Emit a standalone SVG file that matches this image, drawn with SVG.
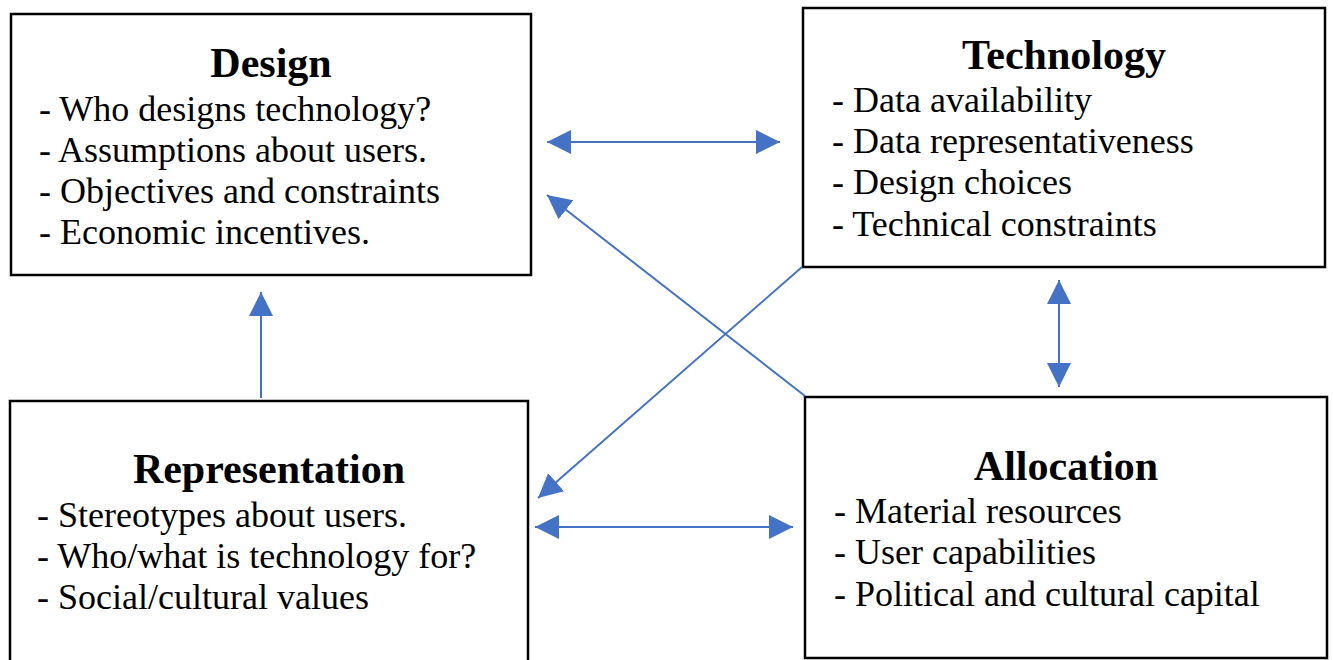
<svg xmlns="http://www.w3.org/2000/svg" width="1333" height="660" viewBox="0 0 1333 660">
<style>
.box{fill:#fff;stroke:#000;stroke-width:2.5}
.title{font-family:"Liberation Serif","Times New Roman",serif;font-weight:bold;font-size:42px;text-anchor:middle;fill:#000}
.item{font-family:"Liberation Serif","Times New Roman",serif;font-size:36px;fill:#000}
.conn{stroke:#4472C4;stroke-width:2;fill:none}
</style>
<defs>
<marker id="ah" markerUnits="userSpaceOnUse" markerWidth="24" markerHeight="24" refX="22" refY="11" orient="auto-start-reverse" viewBox="0 0 22 22">
<path d="M0,0 L22,11 L0,22 z" fill="#4472C4"/>
</marker>
</defs>
<rect width="1333" height="660" fill="#fff"/>
<g id="design">
<rect class="box" x="11" y="14" width="520" height="261"/>
<text class="title" x="271" y="77">Design</text>
<text class="item" x="39" y="121">- Who designs technology?</text>
<text class="item" x="39" y="162">- Assumptions about users.</text>
<text class="item" x="39" y="203">- Objectives and constraints</text>
<text class="item" x="39" y="244">- Economic incentives.</text>
</g>
<g id="technology">
<rect class="box" x="803" y="8" width="522" height="259"/>
<text class="title" x="1064" y="69">Technology</text>
<text class="item" x="832" y="112">- Data availability</text>
<text class="item" x="832" y="153">- Data representativeness</text>
<text class="item" x="832" y="194">- Design choices</text>
<text class="item" x="832" y="236">- Technical constraints</text>
</g>
<g id="representation">
<rect class="box" x="10" y="401" width="518" height="262"/>
<text class="title" x="269" y="483">Representation</text>
<text class="item" x="37" y="527">- Stereotypes about users.</text>
<text class="item" x="37" y="568">- Who/what is technology for?</text>
<text class="item" x="37" y="609">- Social/cultural values</text>
</g>
<g id="allocation">
<rect class="box" x="805" y="397" width="522" height="261"/>
<text class="title" x="1066" y="480">Allocation</text>
<text class="item" x="834" y="523">- Material resources</text>
<text class="item" x="834" y="564">- User capabilities</text>
<text class="item" x="834" y="606">- Political and cultural capital</text>
</g>
<g id="connectors">
<line class="conn" x1="547" y1="142" x2="780" y2="142" marker-start="url(#ah)" marker-end="url(#ah)"/>
<line class="conn" x1="805" y1="396" x2="547" y2="195" marker-end="url(#ah)"/>
<line class="conn" x1="802" y1="267" x2="538" y2="498" marker-end="url(#ah)"/>
<line class="conn" x1="535" y1="527" x2="793" y2="527" marker-start="url(#ah)" marker-end="url(#ah)"/>
<line class="conn" x1="261" y1="398" x2="261" y2="292" marker-end="url(#ah)"/>
<line class="conn" x1="1059" y1="280" x2="1059" y2="387" marker-start="url(#ah)" marker-end="url(#ah)"/>
</g>
</svg>
